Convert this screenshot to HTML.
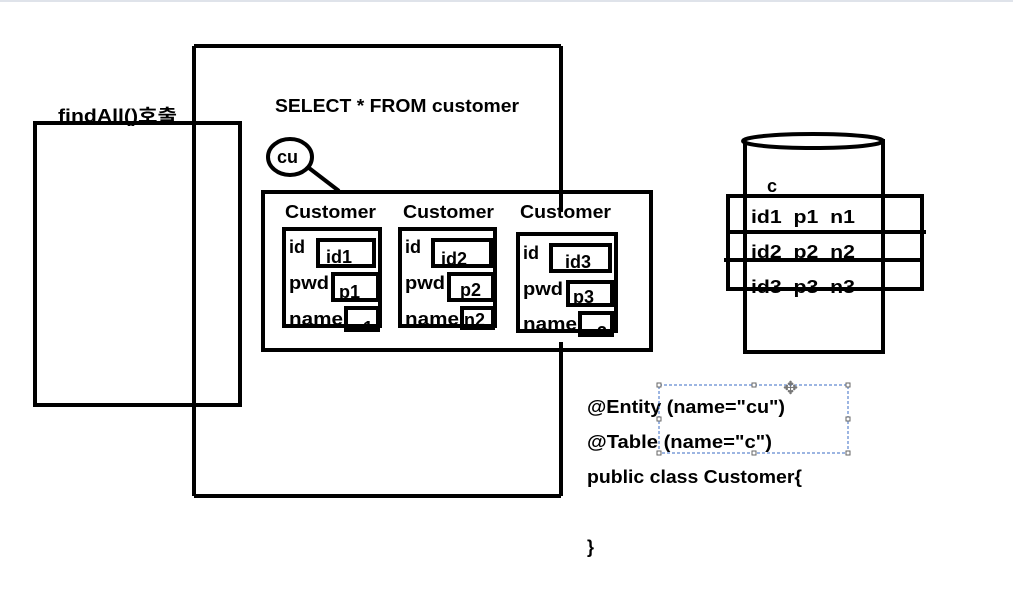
<!DOCTYPE html>
<html><head><meta charset="utf-8"><style>
html,body{margin:0;padding:0;background:#fff;}
svg{display:block;}
text{font-family:"Liberation Sans","Noto Sans CJK KR",sans-serif;font-weight:bold;font-size:18px;fill:#000;}
</style></head><body>
<svg width="1013" height="596" viewBox="0 0 1013 596" xmlns="http://www.w3.org/2000/svg">
<defs>
<clipPath id="c1"><rect x="346" y="308" width="32" height="20"/></clipPath>
<clipPath id="c3"><rect x="580" y="313" width="32" height="20"/></clipPath>
</defs>
<rect x="0" y="0" width="1013" height="2" fill="#dfe3ea"/>
<g fill="none" stroke="#000" stroke-width="4">
<line x1="194" y1="46" x2="561" y2="46"/>
<line x1="194" y1="46" x2="194" y2="496"/>
<line x1="194" y1="496" x2="561" y2="496"/>
<line x1="561" y1="46" x2="561" y2="212"/>
<line x1="561" y1="342" x2="561" y2="496"/>
<rect x="35" y="123" width="205" height="282"/>
<ellipse cx="290" cy="157" rx="22" ry="18"/>
<line x1="309" y1="168" x2="339" y2="191"/>
<rect x="263" y="192" width="388" height="158"/>
<rect x="284" y="229" width="96" height="97"/>
<rect x="318" y="240" width="56" height="26"/>
<rect x="333" y="274" width="45" height="26"/>
<rect x="346" y="308" width="32" height="22"/>
<rect x="400" y="229" width="95" height="97"/>
<rect x="433" y="240" width="58" height="26"/>
<rect x="449" y="274" width="44" height="26"/>
<rect x="462" y="308" width="31" height="20"/>
<rect x="518" y="234" width="98" height="97"/>
<rect x="551" y="245" width="59" height="26"/>
<rect x="568" y="282" width="44" height="23"/>
<rect x="580" y="313" width="32" height="22"/>
<rect x="745" y="141" width="138" height="211"/>
<rect x="728" y="196" width="194" height="93"/>
<line x1="728" y1="232" x2="926" y2="232"/>
<line x1="724" y1="260" x2="922" y2="260"/>
</g>
<ellipse cx="813" cy="141" rx="70" ry="7" fill="#fff" stroke="#000" stroke-width="4"/>
<text x="58" y="122" textLength="119" lengthAdjust="spacingAndGlyphs">findAll()호출</text>
<text x="275" y="112" textLength="244" lengthAdjust="spacingAndGlyphs">SELECT * FROM customer</text>
<text x="277" y="163">cu</text>
<text x="285" y="218" textLength="91" lengthAdjust="spacingAndGlyphs">Customer</text>
<text x="403" y="218" textLength="91" lengthAdjust="spacingAndGlyphs">Customer</text>
<text x="520" y="218" textLength="91" lengthAdjust="spacingAndGlyphs">Customer</text>
<text x="289" y="253">id</text><text x="326" y="263">id1</text>
<text x="289" y="289" textLength="40" lengthAdjust="spacingAndGlyphs">pwd</text><text x="339" y="298">p1</text>
<text x="289" y="325" textLength="54" lengthAdjust="spacingAndGlyphs">name</text>
<text x="352" y="334" clip-path="url(#c1)">n1</text>
<text x="405" y="253">id</text><text x="441" y="265">id2</text>
<text x="405" y="289" textLength="40" lengthAdjust="spacingAndGlyphs">pwd</text><text x="460" y="296">p2</text>
<text x="405" y="325" textLength="54" lengthAdjust="spacingAndGlyphs">name</text><text x="464" y="326">n2</text>
<text x="523" y="259">id</text><text x="565" y="268">id3</text>
<text x="523" y="295" textLength="40" lengthAdjust="spacingAndGlyphs">pwd</text><text x="573" y="303">p3</text>
<text x="523" y="330" textLength="54" lengthAdjust="spacingAndGlyphs">name</text>
<text x="586" y="339" clip-path="url(#c3)">n3</text>
<text x="767" y="192">c</text>
<text x="751" y="223" textLength="104" lengthAdjust="spacingAndGlyphs">id1&#160;&#160;p1&#160;&#160;n1</text>
<text x="751" y="258" textLength="104" lengthAdjust="spacingAndGlyphs">id2&#160;&#160;p2&#160;&#160;n2</text>
<text x="751" y="293" textLength="104" lengthAdjust="spacingAndGlyphs">id3&#160;&#160;p3&#160;&#160;n3</text>
<text x="587" y="413" textLength="198" lengthAdjust="spacingAndGlyphs">@Entity (name="cu")</text>
<text x="587" y="448" textLength="185" lengthAdjust="spacingAndGlyphs">@Table (name="c")</text>
<text x="587" y="483" textLength="215" lengthAdjust="spacingAndGlyphs">public class Customer{</text>
<text x="587" y="553">}</text>
<rect x="659" y="385" width="189" height="68" fill="none" stroke="#3a6bc4" stroke-width="1" stroke-dasharray="3,2"/>
<g fill="#fff" stroke="#666" stroke-width="1">
<rect x="657" y="383" width="4" height="4"/><rect x="752" y="383" width="4" height="4"/><rect x="846" y="383" width="4" height="4"/>
<rect x="846" y="417" width="4" height="4"/><rect x="657" y="417" width="4" height="4"/>
<rect x="657" y="451" width="4" height="4"/><rect x="752" y="451" width="4" height="4"/><rect x="846" y="451" width="4" height="4"/>
</g>
<text x="783" y="394" style="font-size:18px;fill:#777;font-weight:normal">✥</text>
</svg>
</body></html>
